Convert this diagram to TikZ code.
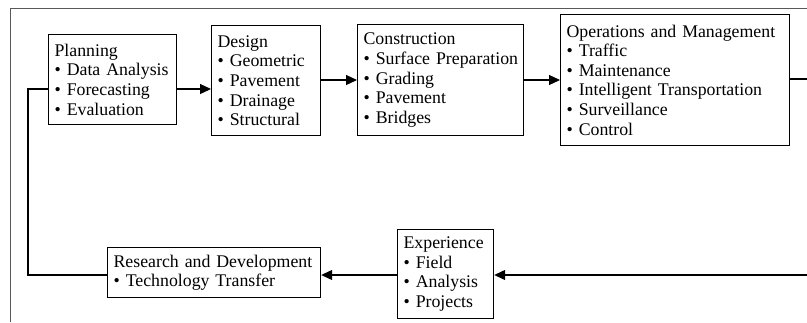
\documentclass[tikz,border=0pt]{standalone}
\usepackage{fontspec}
\setmainfont{Liberation Serif}
\usetikzlibrary{arrows.meta}
\begin{document}
\begin{tikzpicture}[x=1pt,y=-1pt,
  box/.style={draw, line width=1.2pt, anchor=north west, inner xsep=6pt, inner ysep=2pt,
    align=left, font=\fontsize{17.8}{19.6}\selectfont},
  link/.style={line width=1.2pt, -{Triangle[length=11pt,width=10pt]}},
  plain/.style={line width=1.2pt},
  frame/.style={line width=1pt, draw=black!65}]
\useasboundingbox (0,0) rectangle (807,322);
\draw[frame] (10.5,322) -- (10.5,8) -- (807,8);

\node[box, minimum width=128pt, minimum height=90pt, text width=116pt] (plan) at (48,34)
  {Planning\\\textbullet{} Data Analysis\\\textbullet{} Forecasting\\\textbullet{} Evaluation};
\node[box, minimum width=109pt, minimum height=110pt, text width=97pt] (design) at (211,25)
  {Design\\\textbullet{} Geometric\\\textbullet{} Pavement\\\textbullet{} Drainage\\\textbullet{} Structural};
\node[box, inner xsep=3.5pt, minimum width=166pt, minimum height=111pt, text width=159pt] (cons) at (357,24)
  {\hspace*{2.5pt}Construction\\\hspace*{2.5pt}\textbullet{} Surface Preparation\\\hspace*{2.5pt}\textbullet{} Grading\\\hspace*{2.5pt}\textbullet{} Pavement\\\hspace*{2.5pt}\textbullet{} Bridges};
\node[box, minimum width=229pt, minimum height=131pt, text width=217pt] (ops) at (560,14)
  {Operations and Management\\\textbullet{} Traffic\\\textbullet{} Maintenance\\\textbullet{} Intelligent Transportation\\\textbullet{} Surveillance\\\textbullet{} Control};
\node[box, minimum width=96pt, minimum height=89pt, text width=84pt] (exp) at (397,229)
  {Experience\\\textbullet{} Field\\\textbullet{} Analysis\\\textbullet{} Projects};
\node[box, minimum width=213pt, minimum height=50pt, text width=201pt] (rd) at (107,247)
  {Research and Development\\\textbullet{} Technology Transfer};

\coordinate (pd) at (0,89);
\coordinate (r1) at (807,79);
\coordinate (r2) at (807,275);
\coordinate (fbx) at (28,180);

\draw[link] (plan.east |- pd) -- (design.west |- pd);
\draw[link] (design.east |- 0,80) -- (cons.west |- 0,80);
\draw[link] (cons.east |- 0,80) -- (ops.west |- 0,80);
\draw[plain] (ops.east |- r1) -- (r1);
\draw[link] (r2) -- (exp.east |- r2);
\draw[link] (exp.west |- r2) -- (rd.east |- r2);
\draw[plain] (rd.west |- r2) -| (fbx) |- (plan.west |- pd);
\end{tikzpicture}
\end{document}
